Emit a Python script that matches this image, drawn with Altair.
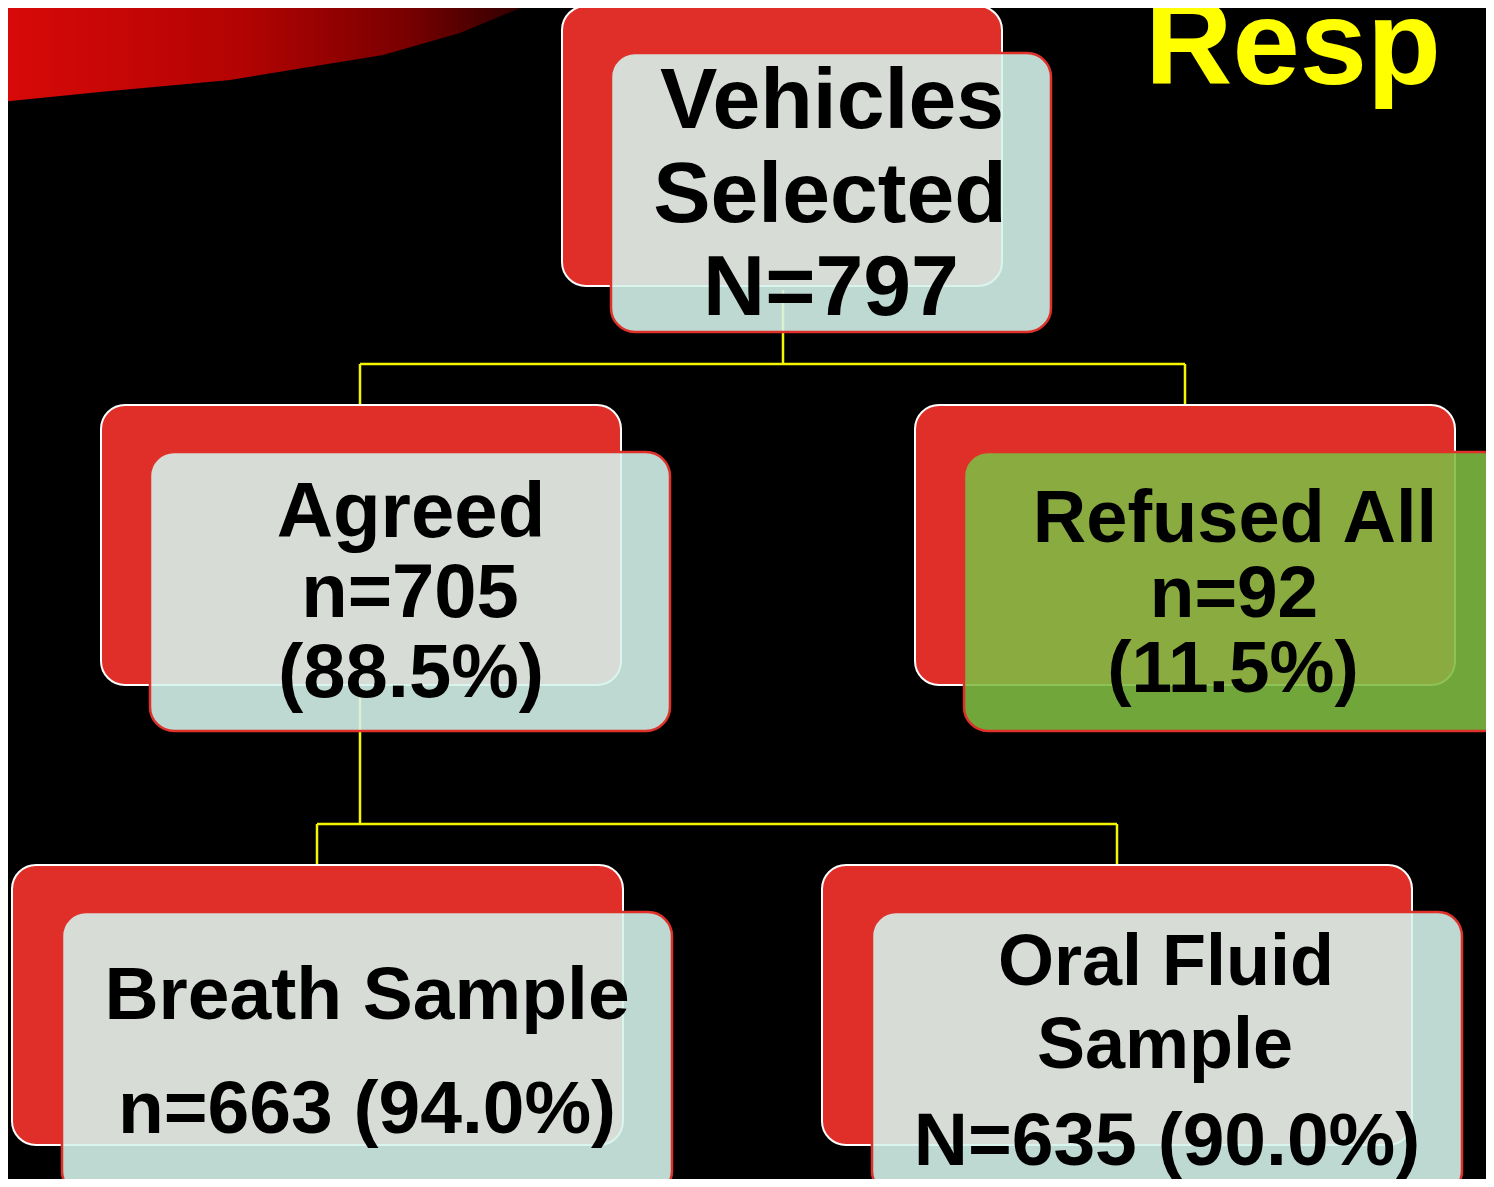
import altair as alt
import pandas as pd

# ---------- data ----------
# background swoosh (bottom edge of the red sweep, top-left corner)
swoosh_x = [0, 100, 230, 383, 460, 540]
swoosh_y = [102, 92, 80, 55, 33, 0]

# node boxes: back (red) card and front (light / green) card
node_names = ["top", "agreed", "refused", "breath", "oral"]
back_x0 = [562, 101, 915, 12, 822]
back_x1 = [1002, 621, 1455, 623, 1412]
back_y0 = [6, 405, 405, 865, 865]
back_y1 = [286, 685, 685, 1145, 1145]
front_x0 = [611, 150, 964, 62, 872]
front_x1 = [1051, 670, 1506, 672, 1462]
front_y0 = [53, 452, 452, 912, 912]
front_y1 = [332, 731, 731, 1195, 1195]
front_fill = ["#d5f3ec", "#d5f3ec", "#7fbb42", "#d5f3ec", "#d5f3ec"]

# connector lines (yellow)
conn_x0 = [783, 360, 360, 1185, 360, 317, 317, 1117]
conn_y0 = [290, 364, 364, 364, 690, 824, 824, 824]
conn_x1 = [783, 1185, 360, 1185, 360, 1117, 317, 1117]
conn_y1 = [364, 364, 405, 405, 824, 824, 865, 865]

# text lines in the boxes
label_text = ["Vehicles", "Selected", "N=797",
              "Agreed", "n=705", "(88.5%)",
              "Refused All", "n=92", "(11.5%)",
              "Breath Sample", "n=663 (94.0%)",
              "Oral Fluid", "Sample", "N=635 (90.0%)"]
label_x = [832, 830, 831, 411, 410, 411, 1235, 1234, 1233, 367, 367, 1166, 1165, 1167]
label_y = [128, 222, 315, 537, 617, 697, 542, 617, 692, 1019, 1133, 985, 1068, 1165]
label_size = [86, 86, 86, 78, 76, 76, 74, 73, 73, 75, 75, 72, 72, 75]

title_text = ["Resp"]
title_x = [1145]
title_y = [84]

# ---------- scales (chart area = viewport minus the 8px page margin) ----------
W, H = 1478, 1171
xs = alt.Scale(domain=[8, 8 + W], nice=False, zero=False)
ys = alt.Scale(domain=[8, 8 + H], nice=False, zero=False, reverse=True)

swoosh_df = pd.DataFrame({"x": swoosh_x, "y": swoosh_y, "y2": [0] * len(swoosh_x)})
boxes_df = pd.DataFrame({
    "name": node_names,
    "bx0": back_x0, "bx1": back_x1, "by0": back_y0, "by1": back_y1,
    "fx0": front_x0, "fx1": front_x1, "fy0": front_y0, "fy1": front_y1,
    "fill": front_fill,
})
conn_df = pd.DataFrame({"x0": conn_x0, "y0": conn_y0, "x1": conn_x1, "y1": conn_y1})
label_df = pd.DataFrame({"t": label_text, "x": label_x, "y": label_y, "s": label_size})
title_df = pd.DataFrame({"t": title_text, "x": title_x, "y": title_y})

swoosh = alt.Chart(swoosh_df).mark_area(
    clip=True,
    color=alt.Gradient(
        gradient="linear",
        stops=[
            alt.GradientStop(color="#d80a08", offset=0),
            alt.GradientStop(color="#b30303", offset=0.45),
            alt.GradientStop(color="#7a0000", offset=0.75),
            alt.GradientStop(color="#250000", offset=1),
        ],
        x1=0, x2=1, y1=0, y2=0,
    ),
).encode(
    x=alt.X("x:Q", scale=xs, axis=None),
    y=alt.Y("y:Q", scale=ys, axis=None),
    y2="y2:Q",
)

conns = alt.Chart(conn_df).mark_rule(color="#f5f500", strokeWidth=2.5).encode(
    x=alt.X("x0:Q", scale=xs, axis=None),
    y=alt.Y("y0:Q", scale=ys, axis=None),
    x2="x1:Q",
    y2="y1:Q",
)

backs = alt.Chart(boxes_df).mark_rect(
    cornerRadius=24, fill="#e02f29", stroke="white", strokeWidth=2
).encode(
    x=alt.X("bx0:Q", scale=xs, axis=None),
    x2="bx1:Q",
    y=alt.Y("by0:Q", scale=ys, axis=None),
    y2="by1:Q",
)

fronts = alt.Chart(boxes_df).mark_rect(
    cornerRadius=24, stroke="#e0302a", strokeWidth=2.5, fillOpacity=0.89, clip=True
).encode(
    x=alt.X("fx0:Q", scale=xs, axis=None),
    x2="fx1:Q",
    y=alt.Y("fy0:Q", scale=ys, axis=None),
    y2="fy1:Q",
    fill=alt.Fill("fill:N", scale=None),
)

labels = alt.Chart(label_df).mark_text(
    font="Liberation Sans", fontWeight="bold", color="black",
    align="center", baseline="alphabetic",
).encode(
    x=alt.X("x:Q", scale=xs, axis=None),
    y=alt.Y("y:Q", scale=ys, axis=None),
    text="t:N",
    size=alt.Size("s:Q", scale=None, legend=None),
)

title = alt.Chart(title_df).mark_text(
    font="Liberation Sans", fontWeight="bold", color="#ffff00",
    fontSize=121, align="left", baseline="alphabetic", clip=True,
).encode(
    x=alt.X("x:Q", scale=xs, axis=None),
    y=alt.Y("y:Q", scale=ys, axis=None),
    text="t:N",
)

chart = alt.layer(swoosh, conns, backs, fronts, labels, title).properties(
    width=W, height=H,
    autosize=alt.AutoSizeParams(type="none"),
    padding=0,
    background="black",
).configure_view(stroke=None)

chart.save("out.html", embed_options={"renderer": "svg", "actions": False})
